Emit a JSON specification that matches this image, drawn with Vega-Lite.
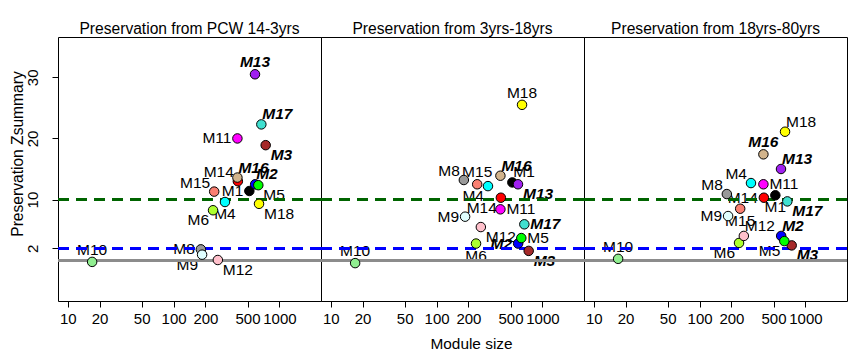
{
  "$schema": "https://vega.github.io/schema/vega-lite/v6.json",
  "background": "white",
  "padding": {"left": 9, "top": 21, "right": 5, "bottom": 2},
  "datasets": {
    "p1": [
      {"module": "M1", "size": 520, "z": 11.4, "pos": "W", "face": "plain"},
      {"module": "M2", "size": 590, "z": 12.5, "pos": "NE", "face": "bold"},
      {"module": "M3", "size": 742, "z": 18.9, "pos": "SE", "face": "bold"},
      {"module": "M4", "size": 306, "z": 9.6, "pos": "S", "face": "plain"},
      {"module": "M5", "size": 632, "z": 12.35, "pos": "SE", "face": "plain"},
      {"module": "M6", "size": 236, "z": 8.25, "pos": "SW", "face": "plain"},
      {"module": "M8", "size": 181, "z": 1.85, "pos": "W", "face": "plain"},
      {"module": "M9", "size": 186, "z": 0.98, "pos": "SW", "face": "plain"},
      {"module": "M10", "size": 17, "z": -0.2, "pos": "N", "face": "plain"},
      {"module": "M11", "size": 401, "z": 20.0, "pos": "W", "face": "plain"},
      {"module": "M12", "size": 262, "z": 0.11, "pos": "SE", "face": "plain"},
      {"module": "M13", "size": 588, "z": 30.5, "pos": "N", "face": "bold"},
      {"module": "M14", "size": 405, "z": 13.0, "pos": "NW", "face": "plain"},
      {"module": "M15", "size": 242, "z": 11.3, "pos": "NW", "face": "plain"},
      {"module": "M16", "size": 401, "z": 13.6, "pos": "NE", "face": "bold"},
      {"module": "M17", "size": 675, "z": 22.3, "pos": "NE", "face": "bold"},
      {"module": "M18", "size": 642, "z": 9.3, "pos": "SE", "face": "plain"}
    ],
    "p2": [
      {"module": "M1", "size": 520, "z": 12.8, "pos": "NE", "face": "plain"},
      {"module": "M2", "size": 590, "z": 2.8, "pos": "W", "face": "bold"},
      {"module": "M3", "size": 742, "z": 1.6, "pos": "SE", "face": "bold"},
      {"module": "M4", "size": 306, "z": 12.2, "pos": "SW", "face": "plain"},
      {"module": "M5", "size": 632, "z": 3.7, "pos": "E", "face": "plain"},
      {"module": "M6", "size": 236, "z": 2.8, "pos": "S", "face": "plain"},
      {"module": "M8", "size": 181, "z": 13.2, "pos": "NW", "face": "plain"},
      {"module": "M9", "size": 186, "z": 7.2, "pos": "W", "face": "plain"},
      {"module": "M10", "size": 17, "z": -0.4, "pos": "N", "face": "plain"},
      {"module": "M11", "size": 401, "z": 8.4, "pos": "E", "face": "plain"},
      {"module": "M12", "size": 262, "z": 5.5, "pos": "SE", "face": "plain"},
      {"module": "M13", "size": 588, "z": 12.5, "pos": "SE", "face": "bold"},
      {"module": "M14", "size": 405, "z": 10.3, "pos": "SW", "face": "plain"},
      {"module": "M15", "size": 242, "z": 12.5, "pos": "N", "face": "plain"},
      {"module": "M16", "size": 401, "z": 13.9, "pos": "NE", "face": "bold"},
      {"module": "M17", "size": 675, "z": 5.95, "pos": "E", "face": "bold"},
      {"module": "M18", "size": 642, "z": 25.5, "pos": "N", "face": "plain"}
    ],
    "p3": [
      {"module": "M1", "size": 520, "z": 10.7, "pos": "S", "face": "plain"},
      {"module": "M2", "size": 590, "z": 4.05, "pos": "NE", "face": "bold"},
      {"module": "M3", "size": 742, "z": 2.5, "pos": "SE", "face": "bold"},
      {"module": "M4", "size": 306, "z": 12.7, "pos": "NW", "face": "plain"},
      {"module": "M5", "size": 632, "z": 3.2, "pos": "SW", "face": "plain"},
      {"module": "M6", "size": 236, "z": 2.9, "pos": "SW", "face": "plain"},
      {"module": "M8", "size": 181, "z": 10.9, "pos": "NW", "face": "plain"},
      {"module": "M9", "size": 186, "z": 7.3, "pos": "W", "face": "plain"},
      {"module": "M10", "size": 17, "z": 0.3, "pos": "N", "face": "plain"},
      {"module": "M11", "size": 401, "z": 12.5, "pos": "E", "face": "plain"},
      {"module": "M12", "size": 262, "z": 4.05, "pos": "NE", "face": "plain"},
      {"module": "M13", "size": 588, "z": 15.0, "pos": "NE", "face": "bold"},
      {"module": "M14", "size": 405, "z": 10.3, "pos": "W", "face": "plain"},
      {"module": "M15", "size": 242, "z": 8.5, "pos": "S", "face": "plain"},
      {"module": "M16", "size": 401, "z": 17.4, "pos": "N", "face": "bold"},
      {"module": "M17", "size": 675, "z": 9.7, "pos": "SE", "face": "bold"},
      {"module": "M18", "size": 642, "z": 21.1, "pos": "NE", "face": "plain"}
    ]
  },
  "spacing": 0,
  "bounds": "flush",
  "hconcat": [
    {
      "data": {"name": "p1"},
      "width": 263, "height": 264,
      "title": {"text": "Preservation from PCW 14-3yrs", "fontSize": 15.6, "fontWeight": "normal", "color": "black", "font": "Liberation Sans", "offset": -13, "baseline": "alphabetic"},
      "layer": [
        {
          "encoding": {
            "x": {"field": "size", "type": "quantitative", "scale": {"type": "log", "domain": [8.09, 2472], "nice": false},
                  "axis": {"values": [10, 20, 50, 100, 200, 500, 1000], "format": "d", "title": null, "grid": false, "domain": false,
                           "tickSize": 6, "labelFontSize": 15, "labelPadding": 4, "labelFlush": false, "labelOverlap": false}},
            "y": {"field": "z", "type": "quantitative", "scale": {"domain": [-6.6, 36.6], "nice": false, "zero": false},
                  "axis": {"values": [2, 10, 20, 30], "title": "Preservation Zsummary", "grid": false, "domain": false,
                           "tickSize": 6, "labelFontSize": 15, "labelAngle": -90, "labelAlign": "center",
                           "labelBaseline": "alphabetic", "labelPadding": 15, "titleFontSize": 15.6, "titlePadding": 0, "titleY": 116.5}},
            "text": {"field": "module"}
          },
          "layer": [
            {"transform": [{"filter": "datum.pos === 'N' && datum.face === 'plain'"}], "mark": {"type": "text", "align": "center", "baseline": "middle", "dy": -12}},
            {"transform": [{"filter": "datum.pos === 'S' && datum.face === 'plain'"}], "mark": {"type": "text", "align": "center", "baseline": "middle", "dy": 12}},
            {"transform": [{"filter": "datum.pos === 'W' && datum.face === 'plain'"}], "mark": {"type": "text", "align": "right", "baseline": "middle", "dx": -6}},
            {"transform": [{"filter": "datum.pos === 'SE' && datum.face === 'plain'"}], "mark": {"type": "text", "align": "left", "baseline": "middle", "dx": 5, "dy": 10}},
            {"transform": [{"filter": "datum.pos === 'SW' && datum.face === 'plain'"}], "mark": {"type": "text", "align": "right", "baseline": "middle", "dx": -4, "dy": 10}},
            {"transform": [{"filter": "datum.pos === 'NW' && datum.face === 'plain'"}], "mark": {"type": "text", "align": "right", "baseline": "middle", "dx": -4, "dy": -9}},
            {"transform": [{"filter": "datum.pos === 'N' && datum.face === 'bold'"}], "mark": {"type": "text", "align": "center", "baseline": "middle", "dy": -12, "fontWeight": "bold", "fontStyle": "italic"}},
            {"transform": [{"filter": "datum.pos === 'NE' && datum.face === 'bold'"}], "mark": {"type": "text", "align": "left", "baseline": "middle", "dx": 1, "dy": -10, "fontWeight": "bold", "fontStyle": "italic"}},
            {"transform": [{"filter": "datum.pos === 'SE' && datum.face === 'bold'"}], "mark": {"type": "text", "align": "left", "baseline": "middle", "dx": 5, "dy": 10, "fontWeight": "bold", "fontStyle": "italic"}}
          ]
        },
        {"mark": {"type": "rule", "color": "#8c8c8c", "strokeWidth": 2}, "encoding": {"y": {"datum": 0}}},
        {"mark": {"type": "rule", "color": "#0000ff", "strokeWidth": 3, "strokeDash": [11, 7]}, "encoding": {"y": {"datum": 2}}},
        {"mark": {"type": "rule", "color": "#006400", "strokeWidth": 3, "strokeDash": [11, 7]}, "encoding": {"y": {"datum": 10}}},
        {
          "mark": {"type": "point", "shape": "circle", "filled": true, "stroke": "black", "strokeWidth": 1, "size": 90, "opacity": 1},
          "encoding": {
            "x": {"field": "size", "type": "quantitative"},
            "y": {"field": "z", "type": "quantitative"},
            "fill": {"field": "module", "type": "nominal", "legend": null, "scale": {"domain": ["M1","M2","M3","M4","M5","M6","M8","M9","M10","M11","M12","M13","M14","M15","M16","M17","M18"], "range": ["#000000","#0000ff","#a52a2a","#00ffff","#00ff00","#adff2f","#999999","#e0ffff","#90ee90","#ff00ff","#ffc0cb","#a020f0","#ff0000","#fa8072","#d2b48c","#40e0d0","#ffff00"]}}
          }
        }
      ]
    },
    {
      "data": {"name": "p2"},
      "width": 263, "height": 264,
      "title": {"text": "Preservation from 3yrs-18yrs", "fontSize": 15.6, "fontWeight": "normal", "color": "black", "font": "Liberation Sans", "offset": -13, "baseline": "alphabetic"},
      "layer": [
        {
          "encoding": {
            "x": {"field": "size", "type": "quantitative", "scale": {"type": "log", "domain": [8.09, 2472], "nice": false},
                  "axis": {"values": [10, 20, 50, 100, 200, 500, 1000], "format": "d", "title": "Module size", "grid": false, "domain": false,
                           "tickSize": 6, "labelFontSize": 15, "labelPadding": 4, "labelFlush": false, "labelOverlap": false,
                           "titleFontSize": 15.4, "titlePadding": 10, "titleX": 150}},
            "y": {"field": "z", "type": "quantitative", "scale": {"domain": [-6.6, 36.6], "nice": false, "zero": false}, "axis": null},
            "text": {"field": "module"}
          },
          "layer": [
            {"transform": [{"filter": "datum.pos === 'N' && datum.face === 'plain'"}], "mark": {"type": "text", "align": "center", "baseline": "middle", "dy": -12}},
            {"transform": [{"filter": "datum.pos === 'S' && datum.face === 'plain'"}], "mark": {"type": "text", "align": "center", "baseline": "middle", "dy": 12}},
            {"transform": [{"filter": "datum.pos === 'E' && datum.face === 'plain'"}], "mark": {"type": "text", "align": "left", "baseline": "middle", "dx": 6}},
            {"transform": [{"filter": "datum.pos === 'W' && datum.face === 'plain'"}], "mark": {"type": "text", "align": "right", "baseline": "middle", "dx": -6}},
            {"transform": [{"filter": "datum.pos === 'NE' && datum.face === 'plain'"}], "mark": {"type": "text", "align": "left", "baseline": "middle", "dx": 1, "dy": -10}},
            {"transform": [{"filter": "datum.pos === 'SE' && datum.face === 'plain'"}], "mark": {"type": "text", "align": "left", "baseline": "middle", "dx": 5, "dy": 10}},
            {"transform": [{"filter": "datum.pos === 'SW' && datum.face === 'plain'"}], "mark": {"type": "text", "align": "right", "baseline": "middle", "dx": -4, "dy": 10}},
            {"transform": [{"filter": "datum.pos === 'NW' && datum.face === 'plain'"}], "mark": {"type": "text", "align": "right", "baseline": "middle", "dx": -4, "dy": -9}},
            {"transform": [{"filter": "datum.pos === 'E' && datum.face === 'bold'"}], "mark": {"type": "text", "align": "left", "baseline": "middle", "dx": 6, "fontWeight": "bold", "fontStyle": "italic"}},
            {"transform": [{"filter": "datum.pos === 'W' && datum.face === 'bold'"}], "mark": {"type": "text", "align": "right", "baseline": "middle", "dx": -6, "fontWeight": "bold", "fontStyle": "italic"}},
            {"transform": [{"filter": "datum.pos === 'NE' && datum.face === 'bold'"}], "mark": {"type": "text", "align": "left", "baseline": "middle", "dx": 1, "dy": -10, "fontWeight": "bold", "fontStyle": "italic"}},
            {"transform": [{"filter": "datum.pos === 'SE' && datum.face === 'bold'"}], "mark": {"type": "text", "align": "left", "baseline": "middle", "dx": 5, "dy": 10, "fontWeight": "bold", "fontStyle": "italic"}}
          ]
        },
        {"mark": {"type": "rule", "color": "#8c8c8c", "strokeWidth": 2}, "encoding": {"y": {"datum": 0}}},
        {"mark": {"type": "rule", "color": "#0000ff", "strokeWidth": 3, "strokeDash": [11, 7]}, "encoding": {"y": {"datum": 2}}},
        {"mark": {"type": "rule", "color": "#006400", "strokeWidth": 3, "strokeDash": [11, 7]}, "encoding": {"y": {"datum": 10}}},
        {
          "mark": {"type": "point", "shape": "circle", "filled": true, "stroke": "black", "strokeWidth": 1, "size": 90, "opacity": 1},
          "encoding": {
            "x": {"field": "size", "type": "quantitative"},
            "y": {"field": "z", "type": "quantitative"},
            "fill": {"field": "module", "type": "nominal", "legend": null, "scale": {"domain": ["M1","M2","M3","M4","M5","M6","M8","M9","M10","M11","M12","M13","M14","M15","M16","M17","M18"], "range": ["#000000","#0000ff","#a52a2a","#00ffff","#00ff00","#adff2f","#999999","#e0ffff","#90ee90","#ff00ff","#ffc0cb","#a020f0","#ff0000","#fa8072","#d2b48c","#40e0d0","#ffff00"]}}
          }
        }
      ]
    },
    {
      "data": {"name": "p3"},
      "width": 263, "height": 264,
      "title": {"text": "Preservation from 18yrs-80yrs", "fontSize": 15.6, "fontWeight": "normal", "color": "black", "font": "Liberation Sans", "offset": -13, "baseline": "alphabetic"},
      "layer": [
        {
          "encoding": {
            "x": {"field": "size", "type": "quantitative", "scale": {"type": "log", "domain": [8.09, 2472], "nice": false},
                  "axis": {"values": [10, 20, 50, 100, 200, 500, 1000], "format": "d", "title": null, "grid": false, "domain": false,
                           "tickSize": 6, "labelFontSize": 15, "labelPadding": 4, "labelFlush": false, "labelOverlap": false}},
            "y": {"field": "z", "type": "quantitative", "scale": {"domain": [-6.6, 36.6], "nice": false, "zero": false}, "axis": null},
            "text": {"field": "module"}
          },
          "layer": [
            {"transform": [{"filter": "datum.pos === 'N' && datum.face === 'plain'"}], "mark": {"type": "text", "align": "center", "baseline": "middle", "dy": -12}},
            {"transform": [{"filter": "datum.pos === 'S' && datum.face === 'plain'"}], "mark": {"type": "text", "align": "center", "baseline": "middle", "dy": 12}},
            {"transform": [{"filter": "datum.pos === 'E' && datum.face === 'plain'"}], "mark": {"type": "text", "align": "left", "baseline": "middle", "dx": 6}},
            {"transform": [{"filter": "datum.pos === 'W' && datum.face === 'plain'"}], "mark": {"type": "text", "align": "right", "baseline": "middle", "dx": -6}},
            {"transform": [{"filter": "datum.pos === 'NE' && datum.face === 'plain'"}], "mark": {"type": "text", "align": "left", "baseline": "middle", "dx": 1, "dy": -10}},
            {"transform": [{"filter": "datum.pos === 'SW' && datum.face === 'plain'"}], "mark": {"type": "text", "align": "right", "baseline": "middle", "dx": -4, "dy": 10}},
            {"transform": [{"filter": "datum.pos === 'NW' && datum.face === 'plain'"}], "mark": {"type": "text", "align": "right", "baseline": "middle", "dx": -4, "dy": -9}},
            {"transform": [{"filter": "datum.pos === 'N' && datum.face === 'bold'"}], "mark": {"type": "text", "align": "center", "baseline": "middle", "dy": -12, "fontWeight": "bold", "fontStyle": "italic"}},
            {"transform": [{"filter": "datum.pos === 'NE' && datum.face === 'bold'"}], "mark": {"type": "text", "align": "left", "baseline": "middle", "dx": 1, "dy": -10, "fontWeight": "bold", "fontStyle": "italic"}},
            {"transform": [{"filter": "datum.pos === 'SE' && datum.face === 'bold'"}], "mark": {"type": "text", "align": "left", "baseline": "middle", "dx": 5, "dy": 10, "fontWeight": "bold", "fontStyle": "italic"}}
          ]
        },
        {"mark": {"type": "rule", "color": "#8c8c8c", "strokeWidth": 2}, "encoding": {"y": {"datum": 0}}},
        {"mark": {"type": "rule", "color": "#0000ff", "strokeWidth": 3, "strokeDash": [11, 7]}, "encoding": {"y": {"datum": 2}}},
        {"mark": {"type": "rule", "color": "#006400", "strokeWidth": 3, "strokeDash": [11, 7]}, "encoding": {"y": {"datum": 10}}},
        {
          "mark": {"type": "point", "shape": "circle", "filled": true, "stroke": "black", "strokeWidth": 1, "size": 90, "opacity": 1},
          "encoding": {
            "x": {"field": "size", "type": "quantitative"},
            "y": {"field": "z", "type": "quantitative"},
            "fill": {"field": "module", "type": "nominal", "legend": null, "scale": {"domain": ["M1","M2","M3","M4","M5","M6","M8","M9","M10","M11","M12","M13","M14","M15","M16","M17","M18"], "range": ["#000000","#0000ff","#a52a2a","#00ffff","#00ff00","#adff2f","#999999","#e0ffff","#90ee90","#ff00ff","#ffc0cb","#a020f0","#ff0000","#fa8072","#d2b48c","#40e0d0","#ffff00"]}}
          }
        }
      ]
    }
  ],
  "resolve": {"scale": {"x": "independent", "y": "independent", "fill": "independent"}},
  "config": {
    "font": "Liberation Sans",
    "view": {"stroke": "black", "strokeWidth": 1},
    "axis": {"labelFont": "Liberation Sans", "titleFont": "Liberation Sans", "labelColor": "black", "titleColor": "black", "tickColor": "black", "titleFontWeight": "normal"},
    "text": {"font": "Liberation Sans", "color": "black", "fontSize": 15.5}
  }
}
